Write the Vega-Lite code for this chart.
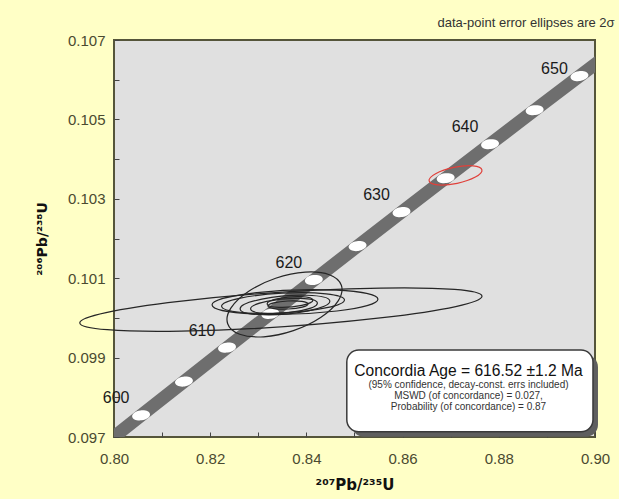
{
  "$schema": "https://vega.github.io/schema/vega-lite/v6.json",
  "width": 481,
  "height": 397,
  "autosize": {"type": "none"},
  "padding": {"left": 114, "top": 40, "right": 24, "bottom": 62},
  "background": "#ffffc6",
  "config": {
    "view": {"fill": "#e0e0e0", "stroke": "#55553a", "strokeWidth": 2},
    "font": "Liberation Sans"
  },
  "title": {
    "text": "data-point error ellipses are 2σ",
    "anchor": "end",
    "fontSize": 13,
    "fontWeight": "normal",
    "color": "#333333",
    "offset": 3,
    "dx": 5,
    "font": "Liberation Sans"
  },
  "datasets": {
    "conc": [
      {"t": 595, "x": 0.796761, "y": 0.096693},
      {"t": 600, "x": 0.805630, "y": 0.097544},
      {"t": 605, "x": 0.814544, "y": 0.098396},
      {"t": 610, "x": 0.823501, "y": 0.099251},
      {"t": 615, "x": 0.832503, "y": 0.100101},
      {"t": 620, "x": 0.841549, "y": 0.100954},
      {"t": 625, "x": 0.850640, "y": 0.101809},
      {"t": 630, "x": 0.859775, "y": 0.102664},
      {"t": 635, "x": 0.868955, "y": 0.103519},
      {"t": 640, "x": 0.878181, "y": 0.104375},
      {"t": 645, "x": 0.887453, "y": 0.105232},
      {"t": 650, "x": 0.896770, "y": 0.106090},
      {"t": 655, "x": 0.906133, "y": 0.106948}
    ],
    "ell": [
      {"id": "e1", "x": 0.8347, "y": 0.10021, "major": 0.0838, "kind": "d"},
      {"id": "e2", "x": 0.83545, "y": 0.100338, "major": 0.02495, "kind": "d"},
      {"id": "e3", "x": 0.83763, "y": 0.1004, "major": 0.0345, "kind": "d"},
      {"id": "e4", "x": 0.83514, "y": 0.100375, "major": 0.02557, "kind": "d"},
      {"id": "e5", "x": 0.83555, "y": 0.100325, "major": 0.01871, "kind": "d"},
      {"id": "e6", "x": 0.83534, "y": 0.1003, "major": 0.01393, "kind": "d"},
      {"id": "e7", "x": 0.83659, "y": 0.1004, "major": 0.00956, "kind": "d"},
      {"id": "e8", "x": 0.83617, "y": 0.100325, "major": 0.00832, "kind": "d"},
      {"id": "r1", "x": 0.871, "y": 0.10359, "major": 0.01123, "kind": "r"}
    ],
    "box": [
      {"x": 0.8484, "x2": 0.89958, "y": 0.09919, "y2": 0.09713}
    ],
    "boxtext": [
      {"x": 0.8737, "y": 0.098662, "text": "Concordia Age = 616.52 ±1.2 Ma", "big": "y"},
      {"x": 0.8737, "y": 0.09831, "text": "(95% confidence, decay-const. errs included)", "big": "n"},
      {"x": 0.8737, "y": 0.098033, "text": "MSWD (of concordance) = 0.027,", "big": "n"},
      {"x": 0.8737, "y": 0.097756, "text": "Probability (of concordance) = 0.87", "big": "n"}
    ]
  },
  "encoding": {
    "x": {
      "field": "x",
      "type": "quantitative",
      "scale": {"domain": [0.8, 0.9], "nice": false, "zero": false},
      "axis": {
        "title": "²⁰⁷Pb/²³⁵U",
        "values": [0.8, 0.81, 0.82, 0.83, 0.84, 0.85, 0.86, 0.87, 0.88, 0.89, 0.9],
        "labelExpr": "round(datum.value*100)%2==0 ? format(datum.value,'.2f') : ''",
        "grid": false,
        "domain": false,
        "tickSize": -5,
        "tickColor": "#444444",
        "labelFontSize": 15,
        "labelColor": "#4a4a30",
        "labelPadding": 19,
        "labelFlush": false,
        "titleFont": "DejaVu Sans",
        "titleFontSize": 15,
        "titleFontWeight": "bold",
        "titleColor": "#111111",
        "titlePadding": 11
      }
    },
    "y": {
      "field": "y",
      "type": "quantitative",
      "scale": {"domain": [0.097, 0.107], "nice": false, "zero": false},
      "axis": {
        "title": "²⁰⁶Pb/²³⁸U",
        "values": [0.097, 0.098, 0.099, 0.1, 0.101, 0.102, 0.103, 0.104, 0.105, 0.106, 0.107],
        "labelExpr": "round(datum.value*1000)%2==1 ? format(datum.value,'.3f') : ''",
        "grid": false,
        "domain": false,
        "tickSize": -5,
        "tickColor": "#444444",
        "labelFontSize": 15,
        "labelColor": "#4a4a30",
        "labelPadding": 14,
        "labelFlush": false,
        "titleFont": "DejaVu Sans",
        "titleFontSize": 14,
        "titleFontWeight": "bold",
        "titleColor": "#111111",
        "titlePadding": 18
      }
    }
  },
  "layer": [
    {
      "data": {"name": "conc"},
      "mark": {"type": "line", "color": "#6e6e6e", "strokeWidth": 13, "strokeCap": "butt", "clip": true},
      "encoding": {"order": {"field": "t", "type": "quantitative"}}
    },
    {
      "data": {"name": "conc"},
      "transform": [{"filter": "datum.t >= 600 && datum.t <= 650"}],
      "mark": {
        "type": "point",
        "shape": "M 0.99027 -0.13917 A 1 0.55 -8 1 1 -0.99027 0.13917 A 1 0.55 -8 1 1 0.99027 -0.13917 Z",
        "size": 324,
        "filled": true,
        "fill": "#ffffff",
        "opacity": 1,
        "strokeWidth": 0
      }
    },
    {
      "data": {"name": "conc"},
      "transform": [{"filter": "datum.t % 10 == 0 && datum.t >= 600 && datum.t <= 640"}],
      "mark": {"type": "text", "fontSize": 16, "color": "#1a1a1a", "dx": -25, "dy": -17},
      "encoding": {"text": {"field": "t", "type": "quantitative", "format": "d"}}
    },
    {
      "data": {"name": "conc"},
      "transform": [{"filter": "datum.t == 650"}],
      "mark": {"type": "text", "fontSize": 16, "color": "#1a1a1a", "dx": -25, "dy": -7},
      "encoding": {"text": {"field": "t", "type": "quantitative", "format": "d"}}
    },
    {
      "data": {"name": "ell"},
      "mark": {"type": "point", "filled": false, "opacity": 1, "strokeWidth": 1.2},
      "encoding": {
        "shape": {
          "field": "id",
          "type": "nominal",
          "legend": null,
          "scale": {
            "domain": ["e1", "e2", "e3", "e4", "e5", "e6", "e7", "e8", "r1"],
            "range": [
              "M 0.9978 -0.06627 A 1 0.085 -3.8 1 1 -0.9978 0.06627 A 1 0.085 -3.8 1 1 0.9978 -0.06627 Z",
              "M 0.94721 -0.32061 A 1 0.46 -18.7 1 1 -0.94721 0.32061 A 1 0.46 -18.7 1 1 0.94721 -0.32061 Z",
              "M 0.99939 -0.0349 A 1 0.145 -2 1 1 -0.99939 0.0349 A 1 0.145 -2 1 1 0.99939 -0.0349 Z",
              "M 0.99863 -0.05234 A 1 0.16 -3 1 1 -0.99863 0.05234 A 1 0.16 -3 1 1 0.99863 -0.05234 Z",
              "M 0.99619 -0.08716 A 1 0.2 -5 1 1 -0.99619 0.08716 A 1 0.2 -5 1 1 0.99619 -0.08716 Z",
              "M 0.99619 -0.08716 A 1 0.21 -5 1 1 -0.99619 0.08716 A 1 0.21 -5 1 1 0.99619 -0.08716 Z",
              "M 0.99619 -0.08716 A 1 0.22 -5 1 1 -0.99619 0.08716 A 1 0.22 -5 1 1 0.99619 -0.08716 Z",
              "M 0.99863 -0.05234 A 1 0.2 -3 1 1 -0.99863 0.05234 A 1 0.2 -3 1 1 0.99863 -0.05234 Z",
              "M 0.97815 -0.20791 A 1 0.3 -12 1 1 -0.97815 0.20791 A 1 0.3 -12 1 1 0.97815 -0.20791 Z"
            ]
          }
        },
        "size": {
          "field": "major",
          "type": "quantitative",
          "legend": null,
          "scale": {"type": "pow", "exponent": 2, "domain": [0, 0.1], "range": [0, 231361], "zero": true}
        },
        "stroke": {
          "field": "kind",
          "type": "nominal",
          "legend": null,
          "scale": {"domain": ["d", "r"], "range": ["#262626", "#e0403a"]}
        }
      }
    },
    {
      "data": {"name": "box"},
      "mark": {"type": "rect", "fill": "#5f5f5f", "cornerRadius": 12, "xOffset": 5, "x2Offset": 5, "yOffset": 5, "y2Offset": 5},
      "encoding": {"x2": {"field": "x2"}, "y2": {"field": "y2"}}
    },
    {
      "data": {"name": "box"},
      "mark": {"type": "rect", "fill": "#ffffff", "stroke": "#3a3a3a", "strokeWidth": 1.5, "cornerRadius": 12},
      "encoding": {"x2": {"field": "x2"}, "y2": {"field": "y2"}}
    },
    {
      "data": {"name": "boxtext"},
      "transform": [{"filter": "datum.big == 'y'"}],
      "mark": {"type": "text", "fontSize": 15.6, "color": "#111111", "align": "center", "baseline": "middle"},
      "encoding": {"text": {"field": "text"}}
    },
    {
      "data": {"name": "boxtext"},
      "transform": [{"filter": "datum.big == 'n'"}],
      "mark": {"type": "text", "fontSize": 10, "color": "#333333", "align": "center", "baseline": "middle"},
      "encoding": {"text": {"field": "text"}}
    }
  ]
}
